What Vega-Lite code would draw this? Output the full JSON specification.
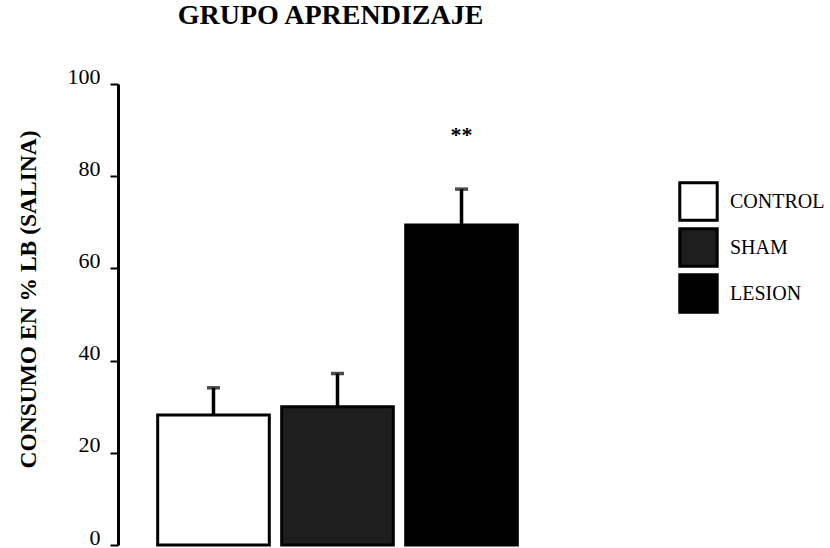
{
  "$schema": "https://vega.github.io/schema/vega-lite/v6.json",
  "autosize": "none",
  "width": 439,
  "height": 461,
  "padding": {"left": 118, "top": 84, "right": 273, "bottom": 3},
  "background": "white",
  "config": {"view": {"stroke": null}},
  "title": {
    "text": "GRUPO APRENDIZAJE",
    "font": "Liberation Serif",
    "fontSize": 28,
    "fontWeight": "bold",
    "color": "black",
    "anchor": "middle",
    "offset": 35,
    "dx": -7
  },
  "data": {
    "values": [
      {"group": "CONTROL", "value": 28.2, "upper": 34.1},
      {"group": "SHAM", "value": 30.0, "upper": 37.2},
      {"group": "LESION", "value": 69.4, "upper": 77.2}
    ]
  },
  "encoding": {
    "x": {
      "field": "group",
      "type": "nominal",
      "sort": ["CONTROL", "SHAM", "LESION"],
      "scale": {"paddingInner": 0.1, "paddingOuter": 0.32},
      "axis": null
    }
  },
  "layer": [
    {
      "mark": {"type": "bar", "stroke": "black", "strokeWidth": 3},
      "encoding": {
        "y": {
          "field": "value",
          "type": "quantitative",
          "scale": {"domain": [0, 100], "nice": false},
          "axis": {
            "values": [0, 20, 40, 60, 80, 100],
            "grid": false,
            "domainColor": "black",
            "domainWidth": 3,
            "tickColor": "black",
            "tickWidth": 2,
            "tickSize": 8,
            "labelFont": "Liberation Serif",
            "labelFontSize": 22,
            "labelColor": "black",
            "labelPadding": 10,
            "labelOffset": -8,
            "title": "CONSUMO EN % LB (SALINA)",
            "titleFont": "Liberation Serif",
            "titleFontSize": 23.5,
            "titleFontWeight": "bold",
            "titleColor": "black",
            "titleAngle": -90,
            "titleX": -90,
            "titleY": 215,
            "titleAlign": "center",
            "titleBaseline": "middle"
          }
        },
        "fill": {
          "field": "group",
          "type": "nominal",
          "sort": ["CONTROL", "SHAM", "LESION"],
          "scale": {"domain": ["CONTROL", "SHAM", "LESION"], "range": ["white", "#1e1e1e", "black"]},
          "legend": {
            "title": null,
            "orient": "none",
            "legendX": 560,
            "legendY": 97,
            "padding": 0,
            "symbolType": "square",
            "symbolSize": 1400,
            "symbolStrokeColor": "black",
            "symbolStrokeWidth": 3,
            "labelFont": "Liberation Serif",
            "labelFontSize": 20,
            "labelColor": "black",
            "labelOffset": 11,
            "rowPadding": -8
          }
        }
      }
    },
    {
      "mark": {"type": "rule", "color": "black", "strokeWidth": 3.5},
      "encoding": {
        "y": {"field": "value", "type": "quantitative"},
        "y2": {"field": "upper"}
      }
    },
    {
      "mark": {"type": "tick", "color": "black", "thickness": 3.5, "size": 13},
      "encoding": {
        "y": {"field": "upper", "type": "quantitative"}
      }
    },
    {
      "data": {"values": [{"group": "LESION", "sig": "**", "pos": 89.4}]},
      "mark": {"type": "text", "font": "Liberation Serif", "fontSize": 22, "fontWeight": "bold", "color": "black", "baseline": "middle", "dy": 2},
      "encoding": {
        "y": {"field": "pos", "type": "quantitative"},
        "text": {"field": "sig"}
      }
    }
  ]
}
